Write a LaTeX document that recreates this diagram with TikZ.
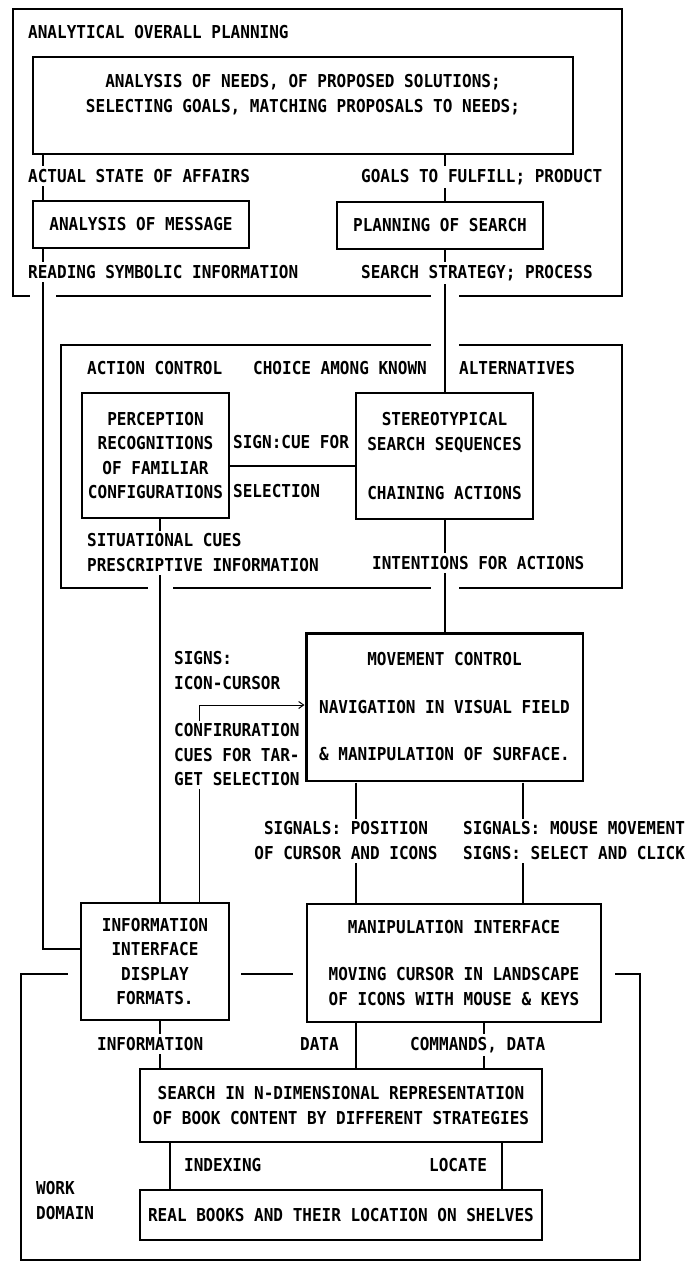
\documentclass[tikz,border=0pt]{standalone}
\usepackage{fontspec}
\usetikzlibrary{arrows.meta}
\newfontfamily\labfont{DejaVu Sans Mono}[FakeStretch=0.9]
\begin{document}
\begin{tikzpicture}[x=1pt,y=-1pt,
  txt/.style={font=\labfont\bfseries\fontsize{17.8}{24.5}\selectfont},
  box/.style={txt, draw, line width=1.4pt, inner sep=0pt, align=center, anchor=center},
  lbl/.style={txt, inner xsep=1pt, inner ysep=3pt},
  wlbl/.style={lbl, fill=white},
  conn/.style={line width=1.1pt},
  frame/.style={line width=2.8pt, line cap=rect},
  arr/.style={line width=1pt, -{Straight Barb[length=5pt,width=7pt]}}]
\useasboundingbox (0,0) rectangle (690,1263);

% column coordinates
\coordinate (xA) at (43,0);
\coordinate (xB) at (445,0);
\coordinate (xC) at (160,0);
\coordinate (xD) at (199,0);
\coordinate (xE) at (356,0);
\coordinate (xF) at (523,0);
\coordinate (xG) at (484,0);
\coordinate (xH) at (170,0);
\coordinate (xI) at (502,0);
\coordinate (yLeft) at (0,949);
\coordinate (yArr) at (0,705);
\coordinate (yCue) at (0,466);

% frames
\draw[frame] (29,296) -- (13,296) -- (13,9) -- (622,9) -- (622,296) -- (460,296);
\draw[frame] (430,296) -- (57,296);
\draw[frame] (430,345) -- (61,345) -- (61,588) -- (147,588);
\draw[frame] (174,588) -- (430,588);
\draw[frame] (460,588) -- (622,588) -- (622,345) -- (460,345);
\draw[frame] (67,974) -- (21,974) -- (21,1260) -- (640,1260) -- (640,974) -- (616,974);
\draw[frame] (242,974) -- (292,974);

% boxes
\node[box, minimum width=540pt, minimum height=97pt] (needs) at (303,105.5)
  {ANALYSIS OF NEEDS, OF PROPOSED SOLUTIONS;\\SELECTING GOALS, MATCHING PROPOSALS TO NEEDS;\\\phantom{A}};
\node[box, minimum width=216pt, minimum height=47pt] (msg) at (141,224.5) {ANALYSIS OF MESSAGE};
\node[box, minimum width=206pt, minimum height=47pt] (plan) at (440,225.5) {PLANNING OF SEARCH};
\node[box, minimum width=147pt, minimum height=125pt] (perc) at (155.5,455.5)
  {PERCEPTION\\RECOGNITIONS\\OF FAMILIAR\\CONFIGURATIONS};
\node[box, minimum width=177pt, minimum height=126pt] (stereo) at (444.5,456)
  {STEREOTYPICAL\\SEARCH SEQUENCES\\[24.5pt]CHAINING ACTIONS};
\node[box, line width=3pt, minimum width=277pt, minimum height=148pt] (move) at (444.5,707)
  {MOVEMENT CONTROL\\[23pt]NAVIGATION IN VISUAL FIELD\\[23pt]\& MANIPULATION OF SURFACE.};
\draw[white, line width=0.9pt] (move.south west) rectangle (move.north east);
\node[box, minimum width=148pt, minimum height=117pt] (info) at (155,961.5)
  {INFORMATION\\INTERFACE\\DISPLAY\\FORMATS.};
\node[box, minimum width=294pt, minimum height=118pt] (manip) at (454,963)
  {MANIPULATION INTERFACE\\[23pt]MOVING CURSOR IN LANDSCAPE\\OF ICONS WITH MOUSE \& KEYS};
\node[box, minimum width=402pt, minimum height=73pt] (search) at (341,1105.5)
  {SEARCH IN N-DIMENSIONAL REPRESENTATION\\OF BOOK CONTENT BY DIFFERENT STRATEGIES};
\node[box, minimum width=402pt, minimum height=50pt] (books) at (341,1215)
  {REAL BOOKS AND THEIR LOCATION ON SHELVES};

% connectors
\draw[conn] (needs.south -| xA) -- (msg.north -| xA);
\draw[conn] (needs.south -| xB) -- (plan.north -| xB);
\draw[conn] (msg.south -| xA) |- (info.west |- yLeft);
\draw[conn] (plan.south -| xB) -- (stereo.north -| xB);
\draw[conn] (perc.east |- yCue) -- (stereo.west |- yCue);
\draw[conn] (stereo.south -| xB) -- (move.north -| xB);
\draw[conn] (perc.south -| xC) -- (info.north -| xC);
\draw[arr] (info.north -| xD) |- (move.west |- yArr);
\draw[conn] (move.south -| xE) -- (manip.north -| xE);
\draw[conn] (move.south -| xF) -- (manip.north -| xF);
\draw[conn] (info.south -| xC) -- (search.north -| xC);
\draw[conn] (manip.south -| xE) -- (search.north -| xE);
\draw[conn] (manip.south -| xG) -- (search.north -| xG);
\draw[conn] (search.south -| xH) -- (books.north -| xH);
\draw[conn] (search.south -| xI) -- (books.north -| xI);

% labels
\node[lbl, anchor=base west] (tAnal) at (27,38.5) {ANALYTICAL OVERALL PLANNING};
\node[wlbl, anchor=base west] (tActual) at (27,182.5) {ACTUAL STATE OF AFFAIRS};
\node[wlbl, anchor=base west] (tGoals) at (360,182.5) {GOALS TO FULFILL; PRODUCT};
\node[wlbl, anchor=base west] (tRead) at (27,278.5) {READING SYMBOLIC INFORMATION};
\node[wlbl, anchor=base west] (tStrat) at (360,278.5) {SEARCH STRATEGY; PROCESS};
\node[lbl, anchor=base west] (tAction) at (86,374.5) {ACTION CONTROL};
\node[lbl, anchor=base west] (tChoice) at (252,374.5) {CHOICE AMONG KNOWN};
\node[lbl, anchor=base west] (tAlt) at (458,374.5) {ALTERNATIVES};
\node[lbl, anchor=base west] (tSign) at (232,448.5) {SIGN:CUE FOR};
\node[lbl, anchor=base west] (tSel) at (232,497.5) {SELECTION};
\node[wlbl, anchor=north west, align=left] (tSit) at (86,530.5) {SITUATIONAL CUES\\PRESCRIPTIVE INFORMATION};
\node[wlbl, anchor=base west] (tInt) at (371,569.5) {INTENTIONS FOR ACTIONS};
\node[lbl, anchor=north west, align=left] (tSigns) at (173,648.5) {SIGNS:\\ICON-CURSOR};
\node[wlbl, anchor=north west, align=left] (tConf) at (173,720.5) {CONFIRURATION\\CUES FOR TAR-\\GET SELECTION};
\node[wlbl, anchor=north, align=center] (tPos) at (346,818.5) {SIGNALS: POSITION\\OF CURSOR AND ICONS};
\node[wlbl, anchor=north west, align=left] (tMouse) at (462,818.5) {SIGNALS: MOUSE MOVEMENT\\SIGNS: SELECT AND CLICK};
\node[wlbl, anchor=base west] (tInfo) at (96,1050.5) {INFORMATION};
\node[lbl, anchor=base west] (tData) at (299,1050.5) {DATA};
\node[wlbl, anchor=base west] (tCmd) at (409,1050.5) {COMMANDS, DATA};
\node[lbl, anchor=base west] (tIdx) at (183,1171.5) {INDEXING};
\node[lbl, anchor=base west] (tLoc) at (428,1171.5) {LOCATE};
\node[lbl, anchor=north west, align=left] (tWork) at (35,1178.5) {WORK\\DOMAIN};
\end{tikzpicture}
\end{document}
